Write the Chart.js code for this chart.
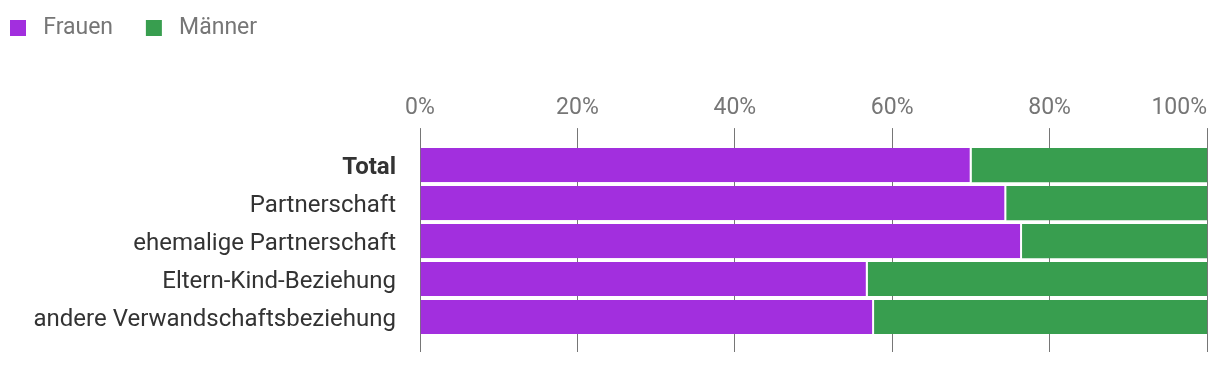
<!DOCTYPE html>
<html lang="de">
<head>
<meta charset="utf-8">
<script src="https://cdn.jsdelivr.net/npm/chart.js@4.4.1/dist/chart.umd.min.js"></script>
<style>
    html, body { margin: 0; padding: 0; background: #fff; }
    #wrap { width: 1220px; height: 366px; position: relative; }
</style>
</head>
<body>
<div id="wrap"><canvas id="chart"></canvas></div>
<script>
const kategorien = ["Total", "Partnerschaft", "ehemalige Partnerschaft", "Eltern-Kind-Beziehung", "andere Verwandschaftsbeziehung"];
const serien = ["Frauen", "Männer"];
const frauen = [70.1, 74.5, 76.5, 56.9, 57.7];
const maenner = [29.9, 25.5, 23.5, 43.1, 42.3];
const tickWerte = [0, 20, 40, 60, 80, 100];

const grau = "#767676";
const schrift = 23;

Chart.defaults.font.family = "Roboto";

// Legende nach unten strecken, damit Platz bis zur Achse bleibt
const legendeAbstand = {
    id: "legendeAbstand",
    beforeInit(chart) {
        const fit = chart.legend.fit;
        chart.legend.fit = function () {
            fit.bind(chart.legend)();
            this.height += 39;
        };
    }
};

// letzte Achsenbeschriftung rechtsbündig, damit sie nicht abgeschnitten wird
const letzteMarke = {
    id: "letzteMarke",
    afterDraw(chart) {
        const s = chart.scales.x;
        const ctx = chart.ctx;
        const v = tickWerte[tickWerte.length - 1];
        ctx.save();
        ctx.font = schrift + "px Roboto";
        ctx.fillStyle = grau;
        ctx.textAlign = "right";
        ctx.textBaseline = "middle";
        ctx.fillText(v + "%", s.getPixelForValue(v), s.bottom - 18 - 6 - schrift * 1.2 / 2);
        ctx.restore();
    }
};

const setzeTicks = s => { s.ticks = tickWerte.map(v => ({ value: v })); };

new Chart(document.getElementById("chart"), {
    type: "bar",
    data: {
        labels: kategorien,
        datasets: [
            {
                label: serien[0],
                data: frauen,
                backgroundColor: "#a22fde",
                borderColor: "#ffffff",
                borderWidth: { left: 0, right: 2, top: 0, bottom: 0 },
                borderSkipped: false
            },
            {
                label: serien[1],
                data: maenner,
                backgroundColor: "#389e4f",
                borderWidth: 0
            }
        ]
    },
    options: {
        indexAxis: "y",
        responsive: true,
        maintainAspectRatio: false,
        animation: false,
        datasets: { bar: { categoryPercentage: 1, barPercentage: 0.9 } },
        layout: { padding: { top: 6.5, left: 0, right: 13, bottom: 14 } },
        scales: {
            x: {
                position: "top",
                stacked: true,
                min: 0,
                max: 100,
                afterBuildTicks: setzeTicks,
                grid: { color: grau, lineWidth: 1, tickLength: 18 },
                border: { display: false },
                ticks: {
                    padding: 6,
                    color: grau,
                    font: { size: schrift },
                    maxRotation: 0,
                    autoSkip: false,
                    callback: v => v === 100 ? "" : v + "%"
                }
            },
            x2: {
                position: "bottom",
                min: 0,
                max: 100,
                afterBuildTicks: setzeTicks,
                grid: { color: grau, lineWidth: 1, tickLength: 16, drawOnChartArea: false },
                border: { display: false },
                ticks: { display: false }
            },
            y: {
                stacked: true,
                grid: { display: false, drawTicks: false },
                border: { display: false },
                ticks: {
                    padding: 24,
                    labelOffset: 3,
                    color: "#333333",
                    font: c => ({ size: 24, weight: c.index === 0 ? "bold" : "normal" })
                },
                afterFit: s => {
                    s.width = 420;
                    s.paddingTop = 0;
                    s.paddingBottom = 0;
                }
            }
        },
        plugins: {
            tooltip: { enabled: false },
            legend: {
                position: "top",
                align: "start",
                labels: {
                    boxWidth: 16,
                    boxHeight: 16,
                    padding: 10,
                    color: grau,
                    font: { size: schrift },
                    generateLabels: chart => Chart.defaults.plugins.legend.labels.generateLabels(chart).map(l =>
                        Object.assign(l, { text: " " + l.text + "    ", lineWidth: 0, strokeStyle: "rgba(0,0,0,0)" }))
                }
            }
        }
    },
    plugins: [legendeAbstand, letzteMarke]
});
</script>
</body>
</html>
